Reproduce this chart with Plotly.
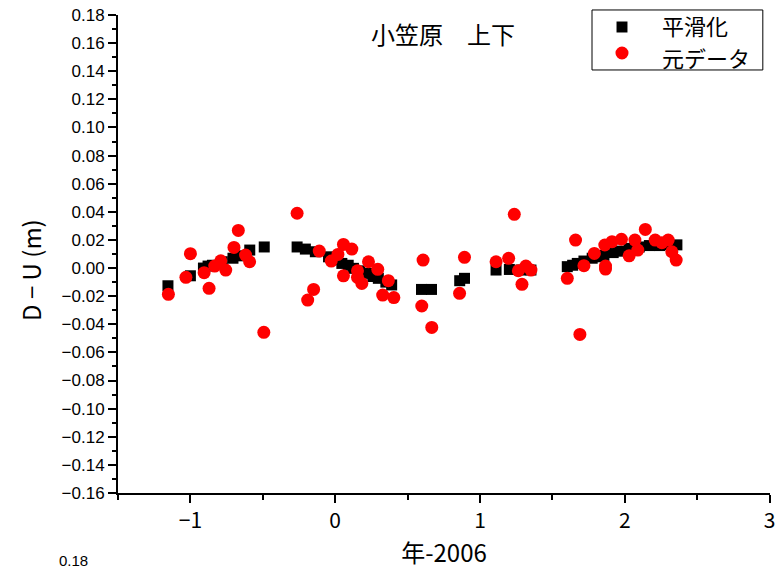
import plotly.graph_objects as go

# Smoothed series (black squares)
smooth_x = [-1.155, -1.00, -0.91, -0.878, -0.848, -0.78, -0.706, -0.67, -0.59, -0.49,
            -0.263, -0.206, -0.137, -0.046, 0.0, 0.046, 0.09, 0.126, 0.17, 0.218,
            0.26, 0.298, 0.35, 0.39, 0.596, 0.665, 0.86, 0.893, 1.111, 1.203,
            1.283, 1.352, 1.603, 1.64, 1.672, 1.718, 1.775, 1.82, 1.856, 1.92,
            1.97, 2.03, 2.10, 2.17, 2.24, 2.30, 2.36]
smooth_y = [-0.0126, -0.0055, 0.0000, 0.0014, 0.0020, 0.0045, 0.0070, 0.0087, 0.0128, 0.0150,
            0.0150, 0.0135, 0.0116, 0.0080, 0.0060, 0.0033, 0.0020, -0.0002, -0.0020, -0.0038,
            -0.0060, -0.0073, -0.0100, -0.0120, -0.0152, -0.0152, -0.0090, -0.0073, -0.0014, -0.0010,
            -0.0014, -0.0014, 0.0010, 0.0020, 0.0033, 0.0050, 0.0070, 0.0080, 0.0090, 0.0110,
            0.0120, 0.0140, 0.0150, 0.0160, 0.0160, 0.0165, 0.0165]

# Raw series (red circles)
raw_x = [-1.152, -1.031, -1.0, -0.905, -0.871, -0.832, -0.79, -0.756, -0.699, -0.669,
         -0.619, -0.591, -0.493, -0.263, -0.19, -0.149, -0.11, -0.027, 0.019, 0.057,
         0.115, 0.057, 0.154, 0.154, 0.184, 0.23, 0.294, 0.367, 0.328, 0.405,
         0.607, 0.598, 0.667, 0.859, 0.893, 1.111, 1.198, 1.237, 1.265, 1.29,
         1.317, 1.352, 1.603, 1.66, 1.69, 1.718, 1.79, 1.862, 1.867, 1.867,
         1.912, 1.977, 2.03, 2.07, 2.09, 2.142, 2.21, 2.256, 2.30, 2.325, 2.355]
raw_y = [-0.0187, -0.0066, 0.0102, -0.0033, -0.0144, 0.0014, 0.0052, -0.0014, 0.0147, 0.0268,
         0.0092, 0.0045, -0.0457, 0.0390, -0.0228, -0.0152, 0.0121, 0.0050, 0.0097, 0.0168,
         0.0135, -0.0055, -0.0019, -0.0066, -0.0109, 0.0045, -0.0009, -0.0090, -0.0192, -0.0210,
         0.0057, -0.0270, -0.0422, -0.0180, 0.0076, 0.0045, 0.0069, 0.0382, -0.0019, -0.0116,
         0.0014, -0.0014, -0.0073, 0.0199, -0.0472, 0.0017, 0.0104, 0.0164, 0.0014, -0.0007,
         0.0188, 0.0205, 0.0087, 0.0199, 0.0128, 0.0275, 0.0199, 0.0180, 0.0199, 0.0116, 0.0057]

series_names = ["平滑化", "元データ"]
series_colors = ["black", "#ff0000"]
title_text = "小笠原\u3000上下"
x_title = "年-2006"
y_title = "D − U (m)"
y_ticks = [round(-0.16 + 0.02 * i, 2) for i in range(18)]
x_ticks = [-1, 0, 1, 2, 3]

JP = "Noto Sans CJK JP"
NUM = "Liberation Sans"

fig = go.Figure()
fig.add_trace(go.Scatter(
    x=smooth_x, y=smooth_y, mode="markers", name=series_names[0], showlegend=False,
    marker=dict(symbol="square", size=11, color=series_colors[0], line=dict(width=0)),
))
fig.add_trace(go.Scatter(
    x=raw_x, y=raw_y, mode="markers", name=series_names[1], showlegend=False,
    marker=dict(symbol="circle", size=13, color=series_colors[1], line=dict(width=0)),
))

# Key box in the top-right corner (paper coordinates)
legend_shapes = [
    dict(type="rect", xref="paper", yref="paper", x0=0.727, x1=0.989, y0=0.885, y1=1.0105,
         line=dict(color="black", width=1), fillcolor="white", layer="above"),
    dict(type="rect", xref="paper", yref="paper", x0=0.7646, x1=0.7814, y0=0.9634, y1=0.9864,
         line=dict(width=0), fillcolor=series_colors[0], layer="above"),
    dict(type="circle", xref="paper", yref="paper", x0=0.7630, x1=0.7830, y0=0.9071, y1=0.9341,
         line=dict(width=0), fillcolor=series_colors[1], layer="above"),
]
legend_labels = [
    dict(text=series_names[0], xref="paper", yref="paper", x=0.8313, y=0.9791,
         xanchor="left", yanchor="middle", showarrow=False,
         font=dict(family=JP, size=22, color="black")),
    dict(text=series_names[1], xref="paper", yref="paper", x=0.8313, y=0.9121,
         xanchor="left", yanchor="middle", showarrow=False,
         font=dict(family=JP, size=22, color="black")),
]

fig.update_layout(
    width=775, height=571,
    margin=dict(l=118, r=5, t=15, b=78),
    paper_bgcolor="white", plot_bgcolor="white",
    showlegend=False,
    shapes=legend_shapes,
    xaxis=dict(
        range=[-1.5, 3.003], tickvals=x_ticks,
        ticktext=["−1", "0", "1", "2", "3"],
        ticklabeloverflow="allow", automargin=False,
        showgrid=False, zeroline=False,
        showline=True, linecolor="black", linewidth=2,
        ticks="outside", ticklen=8, tickwidth=2, tickcolor="black",
        minor=dict(dtick=0.5, tick0=0, ticks="outside", ticklen=5, tickwidth=2, tickcolor="black"),
        tickfont=dict(family=JP, size=21, color="black"),
        title=dict(text=x_title, font=dict(family=JP, size=24, color="black"), standoff=12),
    ),
    yaxis=dict(
        range=[-0.16, 0.18], tickvals=y_ticks,
        ticktext=[(f"{v:.2f}").replace("-", "−") for v in y_ticks],
        automargin=False,
        showgrid=False, zeroline=False,
        showline=True, linecolor="black", linewidth=2,
        ticks="outside", ticklen=8, tickwidth=2, tickcolor="black",
        minor=dict(dtick=0.01, tick0=0, ticks="outside", ticklen=4, tickwidth=2, tickcolor="black"),
        tickfont=dict(family=NUM, size=17, color="black"),
    ),
    annotations=[
        dict(text=title_text, xref="paper", yref="paper", x=0.498, y=0.962,
             xanchor="center", yanchor="middle", showarrow=False,
             font=dict(family=JP, size=24, color="black")),
        dict(text=y_title, xref="paper", yref="paper", x=-0.135, y=0.4665,
             xanchor="center", yanchor="middle", textangle=-90, showarrow=False,
             font=dict(family=JP, size=24, color="black")),
        dict(text="0.18", xref="paper", yref="paper", x=-0.068, y=-0.164,
             xanchor="center", yanchor="bottom", showarrow=False,
             font=dict(family=NUM, size=15, color="black")),
    ] + legend_labels,
)

fig.write_html("out.html")
